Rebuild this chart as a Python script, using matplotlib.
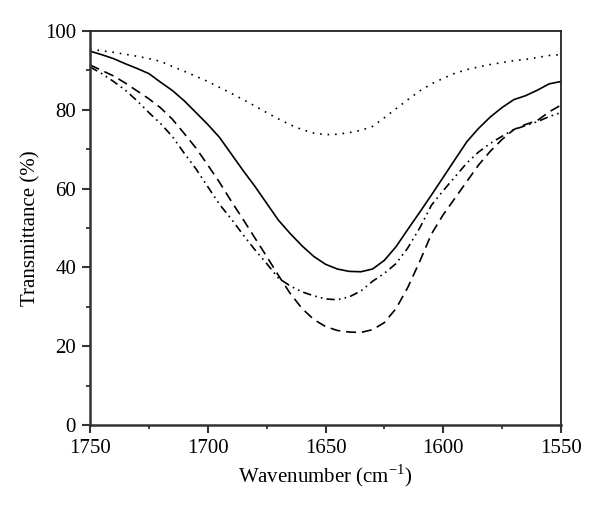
import numpy as np
import matplotlib.pyplot as plt
from matplotlib.ticker import MultipleLocator

plt.rcParams['font.family'] = ['Liberation Serif', 'DejaVu Serif']
plt.rcParams['mathtext.fontset'] = 'custom'
plt.rcParams['mathtext.rm'] = 'Liberation Serif'

# wavenumber grid (cm-1)
wn = [1750, 1745, 1740, 1735, 1730, 1725, 1720, 1715, 1710, 1705, 1700,
      1695, 1690, 1685, 1680, 1675, 1670, 1665, 1660, 1655, 1650,
      1645, 1640, 1635, 1630, 1625, 1620, 1615, 1610, 1605, 1600,
      1595, 1590, 1585, 1580, 1575, 1570, 1565, 1560, 1555, 1550]

# transmittance (%)
solid = [94.9, 94.0, 93.0, 91.7, 90.5, 89.2, 87.0, 84.9, 82.3, 79.3, 76.3,
         73.0, 68.8, 64.6, 60.6, 56.3, 52.0, 48.6, 45.5, 42.8, 40.8,
         39.6, 39.0, 38.9, 39.6, 41.8, 45.3, 49.7, 54.0, 58.4, 62.9,
         67.4, 71.9, 75.3, 78.2, 80.6, 82.6, 83.6, 85.0, 86.6, 87.2]
dotted = [95.4, 95.0, 94.6, 94.1, 93.6, 93.0, 92.3, 91.0, 89.8, 88.5, 87.2,
          85.7, 84.2, 82.6, 81.0, 79.3, 77.7, 76.2, 75.0, 74.1, 73.7,
          73.8, 74.2, 74.8, 75.8, 78.0, 80.3, 82.6, 84.8, 86.6, 88.0,
          89.3, 90.2, 90.9, 91.5, 92.0, 92.5, 92.8, 93.3, 93.8, 94.0]
dashed = [91.4, 90.0, 88.6, 86.8, 84.8, 82.8, 80.5, 77.6, 74.0, 70.3, 66.0,
          61.6, 56.8, 52.2, 47.5, 42.8, 38.0, 33.4, 29.6, 26.8, 25.0,
          24.0, 23.6, 23.5, 24.2, 26.0, 29.6, 35.0, 41.5, 48.5, 53.4,
          57.6, 61.8, 66.0, 69.5, 72.5, 75.0, 76.3, 77.3, 79.5, 81.2]
dashdot = [90.9, 89.2, 87.2, 85.0, 82.3, 79.3, 76.5, 73.2, 69.0, 65.0, 60.5,
           56.0, 52.3, 48.3, 44.5, 41.0, 37.3, 35.3, 33.8, 32.8, 32.0,
           31.8, 32.5, 34.0, 36.5, 38.5, 41.0, 45.0, 50.0, 55.8, 59.5,
           63.0, 66.5, 69.3, 71.5, 73.3, 75.0, 76.0, 77.0, 78.3, 79.3]

fig = plt.figure(figsize=(6, 5.09), dpi=100)
ax = fig.add_axes([0.15, 0.165, 0.785, 0.774])

ax.plot(wn, solid, color='black', lw=1.2, ls='-')
ax.plot(wn, dotted, color='black', lw=1.2, ls=(0, (1, 3.5)))
ax.plot(wn, dashed, color='black', lw=1.2, ls=(0, (6, 3.5)))
ax.plot(wn, dashdot, color='black', lw=1.2, ls=(0, (5, 2.5, 1, 2.5, 1, 2.5)))

ax.set_xlim(1750, 1550)
ax.set_ylim(0, 100)
ax.xaxis.set_major_locator(MultipleLocator(50))
ax.xaxis.set_minor_locator(MultipleLocator(25))
ax.yaxis.set_major_locator(MultipleLocator(20))
ax.yaxis.set_minor_locator(MultipleLocator(10))
ax.tick_params(which='major', direction='out', length=6, width=1.5,
               color='#333333', labelsize=15, pad=4)
ax.tick_params(which='minor', direction='out', length=3, width=1.3,
               color='#333333')

for side in ['left', 'bottom']:
    ax.spines[side].set_linewidth(1.8)
    ax.spines[side].set_color('#333333')
for side in ['top', 'right']:
    ax.spines[side].set_linewidth(1.3)
    ax.spines[side].set_color('#222222')

ax.set_xlabel('Wavenumber (cm$^{-1}$)', fontsize=15, labelpad=3)
ax.set_ylabel('Transmittance (%)', fontsize=15, labelpad=3)

plt.savefig('out.png', dpi=100)
